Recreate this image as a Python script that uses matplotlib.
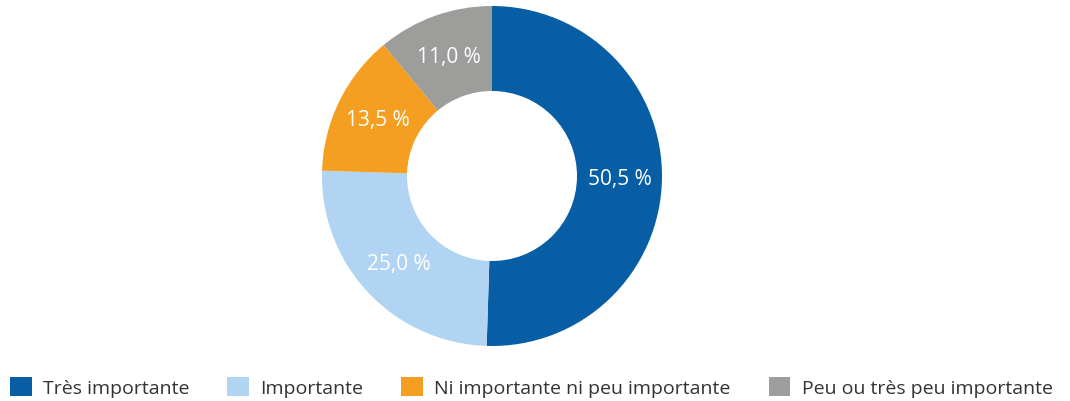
import matplotlib
matplotlib.use("Agg")
import matplotlib.pyplot as plt
import numpy as np

categories = ["Très importante", "Importante", "Ni importante ni peu importante", "Peu ou très peu importante"]
values = [50.5, 25.0, 13.5, 11.0]
colors = ["#075ea5", "#b0d4f1", "#f49e22", "#9d9d9c"]
labels = ["50,5 %", "25,0 %", "13,5 %", "11,0 %"]

plt.rcParams['font.family'] = ['Open Sans', 'DejaVu Sans']

W, H = 1070, 402
fig = plt.figure(figsize=(W/100, H/100), dpi=100)
cx, cy, R = 492, 177, 170
ax = fig.add_axes([(cx-R)/W, (H-cy-R)/H, 2*R/W, 2*R/H])
wedges, _ = ax.pie(values, colors=colors, startangle=90, counterclock=False,
                   radius=1.0, wedgeprops=dict(width=0.5, linewidth=0))
ang = 90.0
for v, lab in zip(values, labels):
    mid = ang - v/100*360/2
    ang -= v/100*360
    r = 0.75
    ax.text(r*np.cos(np.radians(mid)), r*np.sin(np.radians(mid)), lab,
            ha='center', va='center', color='white', fontsize=15)
ax.set_xlim(-1, 1); ax.set_ylim(-1, 1)
ax.set_aspect('equal')
ax.axis('off')

fs = 14
leg = fig.legend(wedges, categories, loc='lower left', bbox_to_anchor=(0.0, -0.015),
                 ncol=4, frameon=False, fontsize=fs, handlelength=1.12, handleheight=1.12,
                 handletextpad=0.58, columnspacing=1.95, borderaxespad=0.2, borderpad=0.3)
for t in leg.get_texts():
    t.set_color('#333333')
fig.savefig("out.png", dpi=100)
